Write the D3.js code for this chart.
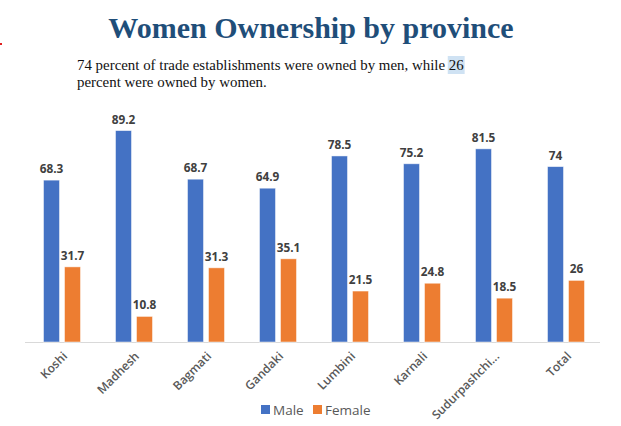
<!DOCTYPE html>
<html>
<head>
<meta charset="utf-8">
<script src="https://cdn.jsdelivr.net/npm/d3@7"></script>
<style>
html,body{margin:0;padding:0;background:#fff;}
svg{display:block;}
</style>
</head>
<body>
<svg id="chart" width="621" height="426"></svg>
<script>
const categories = ["Koshi","Madhesh","Bagmati","Gandaki","Lumbini","Karnali","Sudurpashchi...","Total"];
const maleValues = [68.3, 89.2, 68.7, 64.9, 78.5, 75.2, 81.5, 74];
const femaleValues = [31.7, 10.8, 31.3, 35.1, 21.5, 24.8, 18.5, 26];
const maleLabels = ["68.3","89.2","68.7","64.9","78.5","75.2","81.5","74"];
const femaleLabels = ["31.7","10.8","31.3","35.1","21.5","24.8","18.5","26"];
const seriesNames = ["Male","Female"];
const seriesColors = ["#4472C4","#ED7D31"];

const svg = d3.select("#chart");

// tiny red mark at left edge
svg.append("rect").attr("x",0).attr("y",43).attr("width",2).attr("height",2).attr("fill","#e02020");

// Title
svg.append("text").attr("x",311).attr("y",38).attr("text-anchor","middle")
  .attr("font-family","'Liberation Serif','Times New Roman',serif")
  .attr("font-weight","bold").attr("font-size",30).attr("fill","#1F4E79")
  .text("Women Ownership by province");

// Subtitle with highlighted "26"
const sub1 = svg.append("text").attr("x",77).attr("y",70)
  .attr("font-family","'Liberation Serif','Times New Roman',serif")
  .attr("font-size",14.9).attr("fill","#111");
const pre = sub1.append("tspan").text("74 percent of trade establishments were owned by men, while ");
const hl = sub1.append("tspan").text("26");
svg.append("text").attr("x",77).attr("y",87)
  .attr("font-family","'Liberation Serif','Times New Roman',serif")
  .attr("font-size",14.9).attr("fill","#111")
  .text("percent were owned by women.");
(function(){
  const n = sub1.node();
  const full = n.getComputedTextLength();
  const preLen = n.getSubStringLength(0, pre.text().length);
  const hlLen = full - preLen;
  svg.insert("rect","text").attr("x",77+preLen-1).attr("y",56).attr("width",hlLen+2).attr("height",18)
    .attr("fill","#cfe2f3");
})();

// Scales
const x0 = d3.scaleBand().domain(categories).range([26,602]).padding(0);
const x1 = d3.scaleBand().domain(seriesNames).range([17.5,54.5]).paddingInner(0.238).paddingOuter(0);
const y = d3.scaleLinear().domain([0,100]).range([342,105]);

const data = categories.map((c,i)=>({cat:c, vals:[
  {s:"Male", v:maleValues[i], l:maleLabels[i], c:seriesColors[0]},
  {s:"Female", v:femaleValues[i], l:femaleLabels[i], c:seriesColors[1]}
]}));

// Axis line
svg.append("line").attr("x1",25).attr("x2",600).attr("y1",y(0)+0.5).attr("y2",y(0)+0.5)
  .attr("stroke","#d9d9d9").attr("stroke-width",1.2);

const groups = svg.append("g").selectAll("g").data(data).join("g")
  .attr("transform",d=>`translate(${x0(d.cat)},0)`);

groups.selectAll("rect").data(d=>d.vals).join("rect")
  .attr("x",d=>x1(d.s)).attr("width",x1.bandwidth())
  .attr("y",d=>y(d.v)).attr("height",d=>y(0)-y(d.v))
  .attr("fill",d=>d.c).attr("stroke","#ffffff").attr("stroke-opacity",0.6).attr("stroke-width",0.8);

groups.selectAll("text.lbl").data(d=>d.vals).join("text").attr("class","lbl")
  .attr("x",d=>x1(d.s)+x1.bandwidth()/2).attr("y",d=>y(d.v)-7)
  .attr("text-anchor","middle")
  .attr("font-family","'Open Sans','Liberation Sans',sans-serif")
  .attr("font-weight","bold").attr("font-size",11.8).attr("fill","#404040")
  .text(d=>d.l);

// X axis labels
const xAxis = d3.axisBottom(x0).tickSize(0).tickPadding(0);
const ax = svg.append("g").attr("transform",`translate(0,${y(0)})`).call(xAxis);
ax.select(".domain").remove();
ax.selectAll("text")
  .attr("font-family","'Open Sans','Liberation Sans',sans-serif")
  .attr("font-size",12).attr("font-weight",600).attr("fill","#595959")
  .attr("text-anchor","end")
  .attr("dy",0).attr("y",0).attr("x",0)
  .attr("transform","translate(6,15) rotate(-45)");

// Legend
const legend = svg.append("g");
const lx = [261, 313];
seriesNames.forEach((s,i)=>{
  legend.append("rect").attr("x",lx[i]).attr("y",405).attr("width",9).attr("height",9).attr("fill",seriesColors[i]);
  legend.append("text").attr("x",lx[i]+12).attr("y",414.5)
    .attr("font-family","'Open Sans','Liberation Sans',sans-serif")
    .attr("font-size",13.5).attr("fill","#595959").text(s);
});
</script>
</body>
</html>
